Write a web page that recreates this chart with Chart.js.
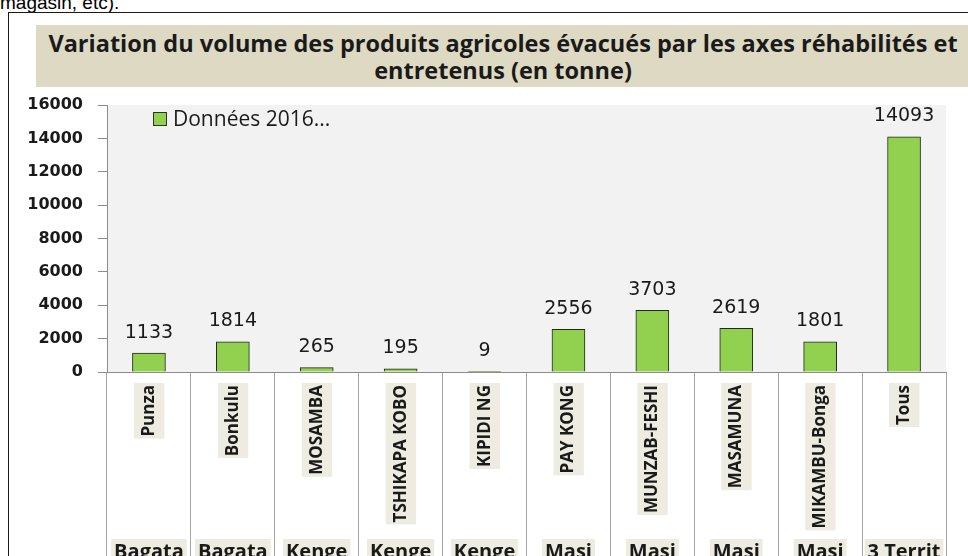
<!DOCTYPE html>
<html>
<head>
<meta charset="utf-8">
<script src="https://cdn.jsdelivr.net/npm/chart.js@4.4.1/dist/chart.umd.min.js"></script>
<style>
    html, body { margin: 0; padding: 0; width: 968px; height: 556px; overflow: hidden; background: #fff; }
    #above { position: absolute; left: 0; top: -7px; font: 19px/20px "Liberation Sans", Arial, sans-serif; color: #000; white-space: nowrap; }
    #frame { position: absolute; left: 8px; top: 12px; width: 1000px; height: 600px; border: 1.5px solid #1a1a1a; }
    #title { position: absolute; left: 36px; top: 25px; width: 934px; height: 62px; background: #ddd9c3;
             font: bold 23.5px "Open Sans", sans-serif; color: #1a1a1a; text-align: center; line-height: 27px; padding-top: 5px; box-sizing: border-box; white-space: nowrap; }
    #legend { position: absolute; left: 153px; top: 104px; font: 21px "Open Sans", sans-serif; color: #1a1a1a; white-space: nowrap; }
    #legend span { display: inline-block; width: 12px; height: 12px; background: #92d050; border: 1px solid #2b3a1f; margin-right: 6px; vertical-align: 0px; }
    canvas { position: absolute; left: 0; top: 0; }
</style>
</head>
<body>
<div id="above">magasin, etc).</div>
<div id="frame"></div>
<div id="title">Variation du volume des produits agricoles évacués par les axes réhabilités et<br>entretenus (en tonne)</div>
<canvas id="chart" width="968" height="620"></canvas>
<div id="legend"><span></span>Données 2016...</div>
<script>
// ─── Data ─────────────────────────────────────────────
const axes = ['Punza', 'Bonkulu', 'MOSAMBA', 'TSHIKAPA KOBO', 'KIPIDI NG', 'PAY KONG', 'MUNZAB-FESHI', 'MASAMUNA', 'MIKAMBU-Bonga', 'Tous'];
const territoires = ['Bagata', 'Bagata', 'Kenge', 'Kenge', 'Kenge', 'Masi', 'Masi', 'Masi', 'Masi', '3 Territ'];
const volumes2016 = [1133, 1814, 265, 195, 9, 2556, 3703, 2619, 1801, 14093];
const yTicks = [0, 2000, 4000, 6000, 8000, 10000, 12000, 14000, 16000];

const plotBg = {
    id: 'plotBg',
    beforeDraw(chart) {
        const { ctx, chartArea: a } = chart;
        ctx.save();
        ctx.fillStyle = '#f2f2f2';
        ctx.fillRect(a.left, a.top, a.right - a.left, a.bottom - a.top);
        ctx.restore();
    }
};

// value labels above the bars
const barValues = {
    id: 'barValues',
    afterDatasetsDraw(chart) {
        const { ctx } = chart;
        const meta = chart.getDatasetMeta(0);
        ctx.save();
        ctx.font = '19px "DejaVu Sans", sans-serif';
        ctx.fillStyle = '#1a1a1a';
        ctx.textAlign = 'center';
        ctx.textBaseline = 'bottom';
        meta.data.forEach((bar, i) => {
            ctx.fillText(String(volumes2016[i]), bar.x, bar.y - 11);
        });
        ctx.restore();
    }
};

new Chart(document.getElementById('chart'), {
    type: 'bar',
    data: {
        labels: axes,
        datasets: [{
            label: 'Données 2016...',
            data: volumes2016,
            backgroundColor: '#92d050',
            borderColor: '#1f2a16',
            borderWidth: 1,
            barThickness: 33,
            xAxisID: 'x',
            yAxisID: 'y'
        }]
    },
    options: {
        responsive: false,
        animation: false,
        layout: { padding: { left: 20, right: 22, top: 105, bottom: 46 } },
        plugins: {
            legend: { display: false },
            tooltip: { enabled: false }
        },
        scales: {
            y: {
                min: 0, max: 16000,
                afterBuildTicks: s => { s.ticks = yTicks.map(v => ({ value: v })); },
                afterFit: s => { s.width = 87; },
                border: { color: '#8c8c8c', width: 1 },
                grid: { drawOnChartArea: false, tickLength: 9, color: '#8c8c8c' },
                ticks: {
                    padding: 15, color: '#1a1a1a',
                    font: { family: 'DejaVu Sans', size: 16, weight: 'bold' },
                    callback: v => String(v)
                }
            },
            x: {
                offset: true,
                afterFit: s => { s.height = 162; },
                border: { color: '#8c8c8c', width: 1 },
                grid: { offset: true, drawOnChartArea: false, tickLength: 220, color: '#a6a6a6' },
                ticks: {
                    minRotation: 90, maxRotation: 90, autoSkip: false,
                    padding: -207,
                    labelOffset: -10,
                    color: '#1a1a1a',
                    font: { family: 'Open Sans', size: 17, weight: 'bold' },
                    showLabelBackdrop: true,
                    backdropColor: '#eeece1',
                    backdropPadding: { x: 2, y: 5 }
                }
            },
            x2: {
                type: 'category',
                labels: territoires,
                position: 'bottom',
                offset: true,
                afterFit: s => { s.height = 40; },
                border: { display: false },
                grid: { display: false, drawTicks: false },
                ticks: {
                    maxRotation: 0, autoSkip: false,
                    padding: 6,
                    color: '#1a1a1a',
                    font: { family: 'Open Sans', size: 20, weight: 'bold' },
                    showLabelBackdrop: true,
                    backdropColor: '#eeece1',
                    backdropPadding: { x: 3, y: 1 }
                }
            }
        }
    },
    plugins: [plotBg, barValues]
});
</script>
</body>
</html>
